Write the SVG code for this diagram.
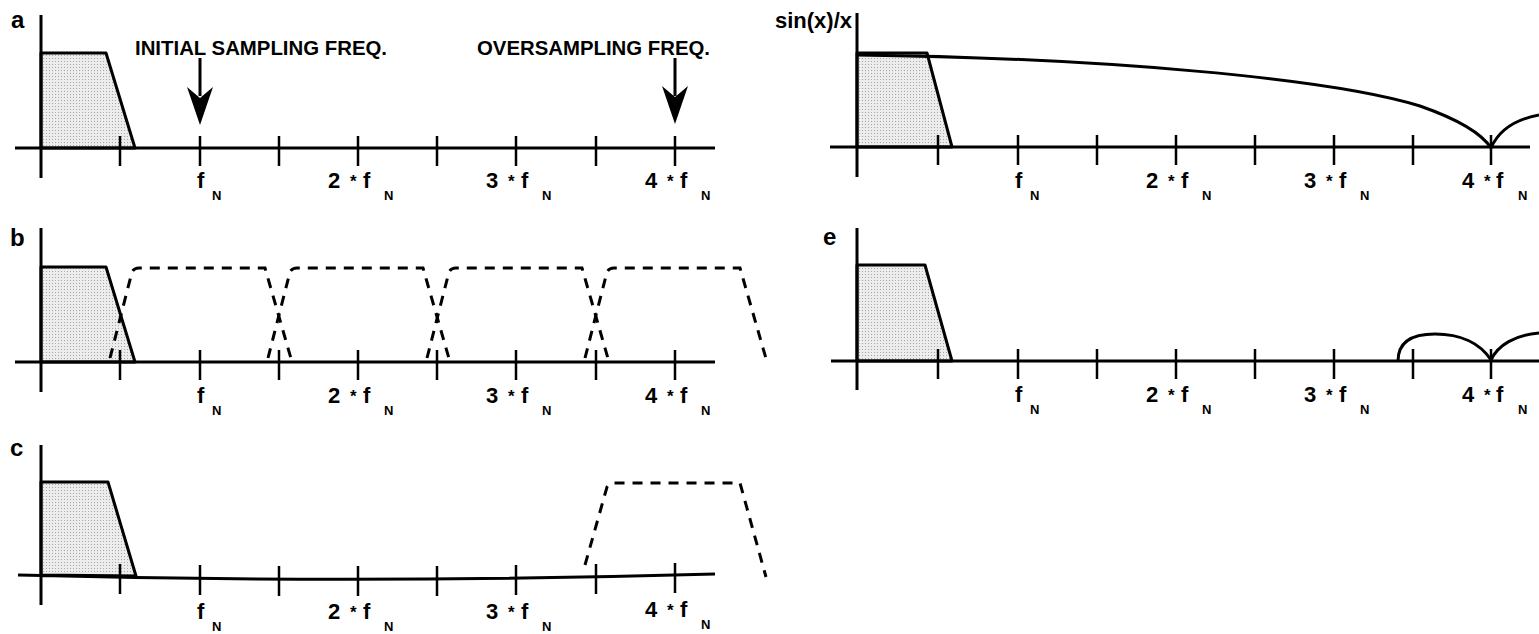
<svg xmlns="http://www.w3.org/2000/svg" width="1539" height="634" viewBox="0 0 1539 634">
<defs>
<pattern id="dots" width="3" height="3" patternUnits="userSpaceOnUse">
<rect width="3" height="3" fill="#ececec"/>
<rect x="1" y="1" width="1" height="1" fill="#a8a8a8"/>
</pattern>
</defs>
<style>
.ax{stroke:#000;stroke-width:3;fill:none}
.tk{stroke:#000;stroke-width:2.5;fill:none}
.sh{fill:url(#dots);stroke:#000;stroke-width:3;stroke-linejoin:round}
.cv{fill:none;stroke:#000;stroke-width:3;stroke-linejoin:round}
.ds{fill:none;stroke:#000;stroke-width:3;stroke-dasharray:10 8}
.t{font-family:"Liberation Sans",Arial,sans-serif;font-weight:bold;font-size:22px;fill:#000}
.s{font-size:13px}
.a{font-size:17px}
.hd{font-family:"Liberation Sans",Arial,sans-serif;font-weight:bold;font-size:20px;fill:#000}
.pl{font-family:"Liberation Sans",Arial,sans-serif;font-weight:bold;font-size:24px;fill:#000}
</style>
<rect width="1539" height="634" fill="#fff"/>

<g id="panel-a">
<text class="pl" x="11" y="28">a</text>
<polygon class="sh" points="41,148 41,53 106,53 135,148"/>
<path class="ax" d="M41,15V178M15,148H715"/>
<path class="tk" d="M120,136V166M200,136V166M279,136V166M358,136V166M437,136V166M516,136V166M596,136V166M675,136V166"/>
<text class="hd" x="135" y="55" textLength="252" lengthAdjust="spacingAndGlyphs">INITIAL SAMPLING FREQ.</text>
<text class="hd" x="477" y="55" textLength="233" lengthAdjust="spacingAndGlyphs">OVERSAMPLING FREQ.</text>
<path class="ax" d="M200,58V96M675,58V96"/>
<polygon points="200,125 187,87 200,98 213,87" fill="#000"/>
<polygon points="675,124 662,86 675,97 688,86" fill="#000"/>
<text class="t"><tspan x="197" y="188">f</tspan><tspan class="s" x="212" y="200">N</tspan></text>
<text class="t"><tspan x="328" y="188">2</tspan><tspan class="a" x="350" y="187">*</tspan><tspan x="363" y="188">f</tspan><tspan class="s" x="384" y="200">N</tspan></text>
<text class="t"><tspan x="486" y="188">3</tspan><tspan class="a" x="508" y="187">*</tspan><tspan x="521" y="188">f</tspan><tspan class="s" x="542" y="200">N</tspan></text>
<text class="t"><tspan x="645" y="188">4</tspan><tspan class="a" x="667" y="187">*</tspan><tspan x="680" y="188">f</tspan><tspan class="s" x="701" y="200">N</tspan></text>
</g>

<g id="panel-b">
<text class="pl" x="10" y="246">b</text>
<polygon class="sh" points="41,362 41,267 106,267 135,362"/>
<path class="ax" d="M41,228V392M15,362H715"/>
<path class="tk" d="M120,350V380M200,350V380M279,350V380M358,350V380M437,350V380M516,350V380M596,350V380M675,350V380"/>
<path class="ds" d="M110,358L132,272Q134,268 139,268L265,268L292,362"/>
<path class="ds" d="M268,358L290,272Q292,268 297,268L423,268L450,362"/>
<path class="ds" d="M427,358L449,272Q451,268 456,268L582,268L609,362"/>
<path class="ds" d="M585,358L607,272Q609,268 614,268L740,268L767,362"/>
<text class="t"><tspan x="197" y="403">f</tspan><tspan class="s" x="212" y="415">N</tspan></text>
<text class="t"><tspan x="328" y="403">2</tspan><tspan class="a" x="350" y="402">*</tspan><tspan x="363" y="403">f</tspan><tspan class="s" x="384" y="415">N</tspan></text>
<text class="t"><tspan x="486" y="403">3</tspan><tspan class="a" x="508" y="402">*</tspan><tspan x="521" y="403">f</tspan><tspan class="s" x="542" y="415">N</tspan></text>
<text class="t"><tspan x="645" y="403">4</tspan><tspan class="a" x="667" y="402">*</tspan><tspan x="680" y="403">f</tspan><tspan class="s" x="701" y="415">N</tspan></text>
</g>

<g id="panel-c">
<text class="pl" x="10" y="456">c</text>
<polygon class="sh" points="41,575 41,482 108,482 136,576"/>
<path class="ax" d="M41,445V605M18,575Q360,584 715,574"/>
<path class="tk" d="M120,564V594M200,565V595M279,566V596M358,566V596M437,566V596M516,565V595M596,564V594M675,563V593"/>
<path class="ds" d="M585,565L607,487Q609,483 614,483L740,483L766,577"/>
<text class="t"><tspan x="197" y="619">f</tspan><tspan class="s" x="212" y="631">N</tspan></text>
<text class="t"><tspan x="328" y="619">2</tspan><tspan class="a" x="350" y="618">*</tspan><tspan x="363" y="619">f</tspan><tspan class="s" x="384" y="631">N</tspan></text>
<text class="t"><tspan x="486" y="619">3</tspan><tspan class="a" x="508" y="618">*</tspan><tspan x="521" y="619">f</tspan><tspan class="s" x="542" y="631">N</tspan></text>
<text class="t"><tspan x="645" y="617">4</tspan><tspan class="a" x="667" y="616">*</tspan><tspan x="680" y="617">f</tspan><tspan class="s" x="701" y="629">N</tspan></text>
</g>

<g id="panel-d">
<text class="t" x="775" y="28">sin(x)/x</text>
<polygon class="sh" points="857,147 857,53 927,53 952,147"/>
<path class="ax" d="M857,13V177M830,147H1530"/>
<path class="tk" d="M938,135V165M1018,135V165M1097,135V165M1176,135V165M1255,135V165M1334,135V165M1413,135V165M1491,135V165"/>
<path class="cv" d="M857,55C1100,58 1330,78 1420,106C1460,120 1482,134 1491,148"/>
<path class="cv" d="M1491,148C1498,132 1512,120 1539,115"/>
<text class="t"><tspan x="1015" y="188">f</tspan><tspan class="s" x="1030" y="200">N</tspan></text>
<text class="t"><tspan x="1146" y="188">2</tspan><tspan class="a" x="1168" y="187">*</tspan><tspan x="1181" y="188">f</tspan><tspan class="s" x="1202" y="200">N</tspan></text>
<text class="t"><tspan x="1304" y="188">3</tspan><tspan class="a" x="1326" y="187">*</tspan><tspan x="1339" y="188">f</tspan><tspan class="s" x="1360" y="200">N</tspan></text>
<text class="t"><tspan x="1462" y="188">4</tspan><tspan class="a" x="1484" y="187">*</tspan><tspan x="1496" y="188">f</tspan><tspan class="s" x="1518" y="200">N</tspan></text>
</g>

<g id="panel-e">
<text class="pl" x="823" y="245">e</text>
<polygon class="sh" points="857,361 857,265 925,265 952,361"/>
<path class="ax" d="M857,228V390M831,361H1539"/>
<path class="tk" d="M938,349V379M1018,349V379M1097,349V379M1176,349V379M1255,349V379M1334,349V379M1413,349V379M1491,349V379"/>
<path class="cv" d="M1398,361C1398,340 1415,334 1435,334C1460,334 1480,343 1491,360"/>
<path class="cv" d="M1491,360C1498,345 1515,335 1539,333"/>
<text class="t"><tspan x="1015" y="402">f</tspan><tspan class="s" x="1030" y="414">N</tspan></text>
<text class="t"><tspan x="1146" y="402">2</tspan><tspan class="a" x="1168" y="401">*</tspan><tspan x="1181" y="402">f</tspan><tspan class="s" x="1202" y="414">N</tspan></text>
<text class="t"><tspan x="1304" y="402">3</tspan><tspan class="a" x="1326" y="401">*</tspan><tspan x="1339" y="402">f</tspan><tspan class="s" x="1360" y="414">N</tspan></text>
<text class="t"><tspan x="1462" y="402">4</tspan><tspan class="a" x="1484" y="401">*</tspan><tspan x="1496" y="402">f</tspan><tspan class="s" x="1518" y="414">N</tspan></text>
</g>
</svg>
